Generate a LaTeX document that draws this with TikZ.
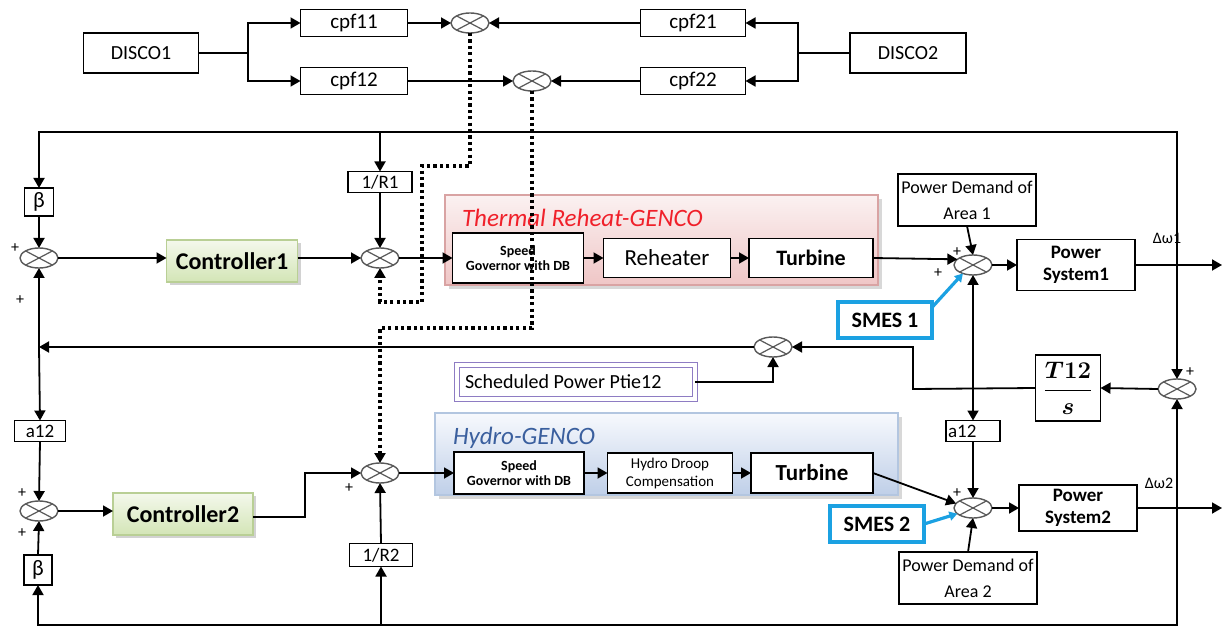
\documentclass[tikz,border=0pt]{standalone}
\usepackage{fontspec}
\setmainfont{Carlito}
\usepackage{amsmath}
\usetikzlibrary{arrows.meta,shapes.geometric,shadows}
\definecolor{smesblue}{HTML}{1BA1E2}
\definecolor{thermred}{HTML}{F0202A}
\definecolor{hydroblue}{HTML}{3A5F9E}
\definecolor{schedpurple}{HTML}{8E7CC3}
\definecolor{thermtop}{HTML}{FBF1F1}
\definecolor{thermbot}{HTML}{EFC6C6}
\definecolor{thermborder}{HTML}{D9A3A3}
\definecolor{hydrotop}{HTML}{F7F9FD}
\definecolor{hydrobot}{HTML}{BFCFE8}
\definecolor{hydroborder}{HTML}{B3C6E0}
\definecolor{ctrltop}{HTML}{F4F8EC}
\definecolor{ctrlbot}{HTML}{D3E5B6}
\definecolor{ctrlborder}{HTML}{B9CF95}
\newcommand\myfs[2]{\fontsize{#1}{#2}\selectfont}
\begin{document}
\begin{tikzpicture}[x=0.5pt,y=-0.5pt,
  every node/.style={inner sep=0pt, outer sep=0pt},
  arr/.style={line width=0.9pt, -{Triangle[length=5pt,width=5.5pt]}},
  dotarrow/.style={line width=1.7pt, dash pattern=on 1.6pt off 1.6pt, -{Triangle[length=5pt,width=5.5pt]}},
  bluearr/.style={draw=smesblue, line width=1.6pt, -{Triangle[length=4pt,width=4.5pt]}},
  blk/.style n args={2}{draw, line width=0.9pt, fill=white, minimum width=#1*0.5pt, minimum height=#2*0.5pt, align=center},
  sumn/.style={ellipse, draw=black!65, line width=0.7pt, fill=white, minimum width=19pt, minimum height=10pt,
    path picture={\draw[black!65, line width=0.6pt] (path picture bounding box.north west) -- (path picture bounding box.south east)
      (path picture bounding box.north east) -- (path picture bounding box.south west);}},
  ctrlbox/.style={draw=ctrlborder, line width=0.7pt, top color=ctrltop, bottom color=ctrlbot,
    drop shadow={shadow xshift=1.5pt, shadow yshift=-1.5pt, fill=black!35},
    minimum height=21pt, font=\myfs{12}{14}\bfseries},
  smesbox/.style={draw=smesblue, line width=1.8pt, fill=white, minimum width=47pt, minimum height=18pt, font=\myfs{11}{13}\bfseries},
  plus/.style={font=\myfs{8}{9}},
]
\useasboundingbox (0,0) rectangle (1224,630);

% ---------- backgrounds ----------
\node[draw=thermborder, line width=0.8pt, top color=thermtop, bottom color=thermbot,
  drop shadow={shadow xshift=2pt, shadow yshift=-2pt, fill=black!30},
  minimum width=216.5pt, minimum height=45pt] (thermal) at (661.5,240) {};
\node[anchor=west, font=\myfs{12.5}{14}\itshape, text=thermred] (thermtitle) at (462,218) {Thermal Reheat-GENCO};
\node[draw=hydroborder, line width=0.8pt, top color=hydrotop, bottom color=hydrobot,
  drop shadow={shadow xshift=2pt, shadow yshift=-2pt, fill=black!30},
  minimum width=231.5pt, minimum height=41pt] (hydro) at (666.5,454) {};
\node[anchor=west, font=\myfs{12.5}{14}\itshape, text=hydroblue] (hydrotitle) at (453,438) {Hydro-GENCO};

% ---------- top section ----------
\node[blk={115}{40}, font=\myfs{10}{12}] (disco1) at (141,53) {DISCO1};
\node[blk={116}{40}, font=\myfs{10}{12}] (disco2) at (908,53) {DISCO2};
\node[blk={107}{27}, font=\myfs{10.5}{12}] (cpf11) at (354,23) {cpf11};
\node[blk={107}{27}, font=\myfs{10.5}{12}] (cpf12) at (354,81) {cpf12};
\node[blk={105}{27}, font=\myfs{10.5}{12}] (cpf21) at (693,23) {cpf21};
\node[blk={105}{27}, font=\myfs{10.5}{12}] (cpf22) at (693,81) {cpf22};
\node[sumn] (sumA) at (470,23) {};
\node[sumn] (sumB) at (532,81) {};
\coordinate (split1) at (248,53);
\coordinate (split2) at (798,53);

% ---------- area 1 ----------
\node[blk={29}{28}, font=\myfs{11}{13}] (beta1) at (39,202) {β};
\node[sumn] (sumL1) at (39,258) {};
\node[ctrlbox, minimum width=65.5pt] (ctrl1) at (232,261) {Controller1};
\node[blk={64}{21}, font=\myfs{9.5}{11}] (r1) at (380,182) {1/R1};
\node[sumn] (sumM1) at (380,258) {};
\node[blk={131}{50}, font=\myfs{7}{8.5}] (gov1) at (518,258) {\textbf{Speed}\\[-1pt]\textbf{Governor with DB}};
\node[blk={127}{39}, font=\myfs{11.5}{13}] (reh) at (667,258) {Reheater};
\node[blk={124}{39}, font=\myfs{11}{13}\bfseries] (turb1) at (811,258) {Turbine};
\node[blk={138}{52}, font=\myfs{9}{13}] (pd1) at (967,200) {Power Demand of\\Area 1};
\node[sumn] (sumP1) at (973,265) {};
\node[blk={118}{51}, font=\myfs{9.5}{11}\bfseries] (ps1) at (1076,265) {Power\\System1};
\node[smesbox] (smes1) at (885,320) {SMES 1};
\node[font=\myfs{8}{10}] (dw1) at (1167,238) {Δω1};

% ---------- tie line ----------
\node[sumn] (sumT) at (773,347) {};
\node[draw=schedpurple, line width=0.6pt, double=white, double distance=2pt, fill=white,
  minimum height=17pt, text width=111pt, inner xsep=4pt, align=flush left, font=\myfs{10}{12}] (sched) at (576,382) {Scheduled Power Ptie12};
\node[blk={65}{66}] (t12) at (1068,388) {\myfs{12}{14}$\boldsymbol{\dfrac{T12}{s}}$};
\node[sumn] (sumR) at (1177,389) {};
\node[draw, line width=0.9pt, fill=white, minimum height=10.5pt, text width=25pt, inner xsep=1pt, align=flush left, font=\myfs{9.5}{11}] (a12r) at (973,431) {a12};
\node[draw, line width=0.9pt, fill=white, minimum height=10.5pt, text width=23.5pt, inner xsep=1pt, align=center, font=\myfs{9.5}{11}] (a12l) at (40,431) {a12};

% ---------- area 2 ----------
\node[sumn] (sumL2) at (39,511) {};
\node[blk={28}{30}, font=\myfs{11}{13}] (beta2) at (38,570) {β};
\node[ctrlbox, minimum width=70pt] (ctrl2) at (183,514) {Controller2};
\node[sumn] (sumM2) at (380,473) {};
\node[blk={63}{23}, font=\myfs{9.5}{11}] (r2) at (381,555) {1/R2};
\node[blk={130}{42}, font=\myfs{7}{8.5}] (gov2) at (519,473) {\textbf{Speed}\\[-1pt]\textbf{Governor with DB}};
\node[blk={125}{40}, font=\myfs{7.5}{9}] (droop) at (670,473) {Hydro Droop\\Compensation};
\node[blk={122}{40}, font=\myfs{11.5}{13}\bfseries] (turb2) at (812,473) {Turbine};
\node[sumn] (sumP2) at (973,508) {};
\node[blk={118}{46}, font=\myfs{9.5}{11}\bfseries] (ps2) at (1078,508) {Power\\System2};
\node[blk={138}{52}, font=\myfs{9}{13}] (pd2) at (968,578) {Power Demand of\\Area 2};
\node[smesbox] (smes2) at (877,524) {SMES 2};
\node[font=\myfs{8}{10}] (dw2) at (1159,483) {Δω2};

% ---------- plus signs ----------
\node[plus] (p1) at (15,248) {+};
\node[plus] (p2) at (20,300) {+};
\node[plus] (p3) at (22,493) {+};
\node[plus] (p4) at (22,533) {+};
\node[plus] (p5) at (349,488) {+};
\node[plus] (p6) at (1190,372) {+};
\node[plus] (p7) at (957,252) {+};
\node[plus] (p8) at (938,273) {+};
\node[plus] (p9) at (957,493) {+};

% ---------- coordinates ----------
\coordinate (tl) at (39,132);
\coordinate (tr) at (1177,132);
\coordinate (jw1) at (1177,265);
\coordinate (jw2) at (1177,508);
\coordinate (bl) at (38,625);
\coordinate (br) at (1177,625);
\coordinate (jl) at (39,347);
\coordinate (jt) at (973,389);
\coordinate (bend1) at (913,389);
\coordinate (out1) at (1222,265);
\coordinate (out2) at (1222,508);
\coordinate (c2a) at (305,517);
\coordinate (c2b) at (305,473);
\coordinate (d1a) at (470,166);
\coordinate (d1b) at (422,166);
\coordinate (d1c) at (422,302);
\coordinate (d1d) at (380,302);
\coordinate (d2a) at (532,328);
\coordinate (d2b) at (380,328);

% ---------- top connectors ----------
\draw[line width=0.9pt] (disco1.east) -- (split1);
\draw[arr] (split1) |- (cpf11.west);
\draw[arr] (split1) |- (cpf12.west);
\draw[line width=0.9pt] (disco2.west) -- (split2);
\draw[arr] (split2) |- (cpf21.east);
\draw[arr] (split2) |- (cpf22.east);
\draw[arr] (cpf11.east) -- (sumA.west);
\draw[arr] (cpf12.east) -- (sumB.west);
\draw[arr] (cpf21.west) -- (sumA.east);
\draw[arr] (cpf22.west) -- (sumB.east);

% ---------- feedback loops ----------
\draw[arr] (jw1) -- (tr) -- (tl) -- (beta1.north);
\draw[arr] (r1.north |- tl) -- (r1.north);
\draw[arr] (jw1) -- (sumR.north);
\draw[arr] (jw2) -- (br) -- (bl) -- (beta2.south);
\draw[arr] (r2.south |- bl) -- (r2.south);
\draw[arr] (jw2) -- (sumR.south);

% ---------- area 1 connectors ----------
\draw[arr] (beta1.south) -- (sumL1.north);
\draw[arr] (sumL1.east) -- (ctrl1.west |- sumL1.east);
\draw[arr] (ctrl1.east |- sumM1.west) -- (sumM1.west);
\draw[arr] (r1.south) -- (sumM1.north);
\draw[arr] (sumM1.east) -- (gov1.west);
\draw[arr] (gov1.east) -- (reh.west);
\draw[arr] (reh.east) -- (turb1.west);
\draw[arr] (turb1.east) -- (sumP1.160);
\draw[arr] (pd1.south) -- (sumP1.north);
\draw[arr] (sumP1.east) -- (ps1.west);
\draw[arr] (ps1.east) -- (out1);
\draw[bluearr] (smes1.15) -- (sumP1.220);

% ---------- tie line connectors ----------
\draw[arr] (sumT.west) -- (jl);
\draw[arr] (jl) -- (sumL1.south);
\draw[arr] (jl) -- (a12l.north);
\draw[arr] (sched.east) -| (sumT.south);
\draw[arr] (sumR.west) -- (t12.east);
\draw[arr] (t12.west) -- (bend1) |- (sumT.east);
\draw[arr] (jt) -- (sumP1.south);
\draw[arr] (jt) -- (a12r.north);
\draw[arr] (a12r.south) -- (sumP2.north);

% ---------- area 2 connectors ----------
\draw[arr] (a12l.south) -- (sumL2.north);
\draw[arr] (beta2.north) -- (sumL2.south);
\draw[arr] (sumL2.east) -- (ctrl2.west |- sumL2.east);
\draw[arr] (ctrl2.east |- c2a) -- (c2a) -- (c2b) -- (sumM2.west);
\draw[arr] (r2.north) -- (sumM2.south);
\draw[arr] (sumM2.east) -- (gov2.west);
\draw[arr] (gov2.east) -- (droop.west);
\draw[arr] (droop.east) -- (turb2.west);
\draw[arr] (turb2.east) -- (sumP2.165);
\draw[arr] (pd2.north) -- (sumP2.south);
\draw[arr] (sumP2.east) -- (ps2.west);
\draw[arr] (ps2.east) -- (out2);
\draw[bluearr] (smes2.east) -- (sumP2.200);

% ---------- dotted links ----------
\draw[dotarrow] (sumA.south) -- (d1a) -- (d1b) -- (d1c) -- (d1d) -- (sumM1.south);
\draw[dotarrow] (sumB.south) -- (d2a) -- (d2b) -- (sumM2.north);
\end{tikzpicture}
\end{document}
